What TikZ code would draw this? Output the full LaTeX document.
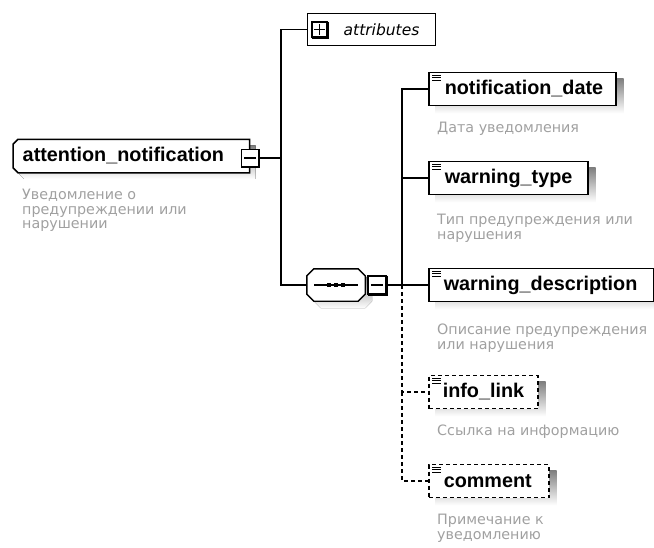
\documentclass[tikz,border=0pt]{standalone}
\usepackage{fontspec}
\setmainfont{DejaVu Sans}
\newfontfamily\titlef{Liberation Sans}
\usetikzlibrary{backgrounds,calc}
\definecolor{desc}{HTML}{A0A0A0}
\definecolor{shade}{HTML}{C6C6C6}
\tikzset{
  conn/.style={draw=black, line width=1.3pt},
  optconn/.style={conn, dash pattern=on 4pt off 3pt},
  ebox/.style={draw=black, line width=1.5pt, fill=white, minimum height=33pt,
    inner xsep=0pt, inner ysep=0pt, align=left, anchor=west,
    font=\titlef\fontsize{19.8}{22}\selectfont\bfseries},
  optbox/.style={ebox, dash pattern=on 4pt off 3pt},
  rootbox/.style={ebox, draw=none, fill=none, minimum height=32pt},
  attrbox/.style={draw=black, line width=1.4pt, fill=white, minimum height=32pt,
    inner xsep=0pt, inner ysep=0pt, align=left, anchor=west,
    font=\fontsize{15.5}{18}\selectfont\itshape},
  seqbox/.style={draw=none, minimum width=58pt, minimum height=32pt, inner sep=0pt},
  dsc/.style={anchor=north west, inner sep=0pt, text=desc, align=left,
    font=\fontsize{14.3}{14.6}\selectfont},
  pmbox/.style={draw=black, line width=1.3pt, fill=white, minimum size=17pt, inner sep=0pt},
}
\newcommand\thickedge[1]{\draw[line width=2.6pt] ([yshift=-0.6pt]#1.north east) -- (#1.south east) -- ([xshift=0.6pt]#1.south west);}
\newcommand\elicon[1]{\foreach \yy in {3.5,6,8.5}{\draw[line width=0.9pt] ([shift={(4,\yy)}]#1.north west) -- +(9,0);}}
\newcommand\eshadow[1]{\fill[shade] ([shift={(7,7)}]#1.north west) rectangle ([shift={(7,7)}]#1.south east);}
\begin{document}
\begin{tikzpicture}[x=1pt,y=-1pt]
\useasboundingbox (0,0) rectangle (654,547);

% root element
\node[rootbox, text width=235pt] (root) at (13,156) {\hspace*{9pt}attention\_notification};
\node[dsc] (rootd) at (22,189) {Уведомление о\\предупреждении или\\нарушении};
\begin{scope}[on background layer]
  \fill[shade] ($(root.north west)+(11,6)$) -- ($(root.north east)+(6,6)$) -- ($(root.south east)+(6,6)$)
     -- ($(root.south west)+(11,6)$) -- ($(root.south west)+(6,1)$) -- ($(root.north west)+(6,11)$) -- cycle;
  \draw[line width=1.5pt, fill=white] ($(root.north west)+(5,0)$) -- (root.north east) -- (root.south east)
     -- ($(root.south west)+(5,0)$) -- ($(root.south west)+(0,-5)$) -- ($(root.north west)+(0,5)$) -- cycle;
\end{scope}
\node[pmbox] (rminus) at (250,158) {};
\thickedge{rminus}
\draw[line width=1.3pt] ([xshift=3.5]rminus.west) -- ([xshift=-3.5]rminus.east);

% attributes
\node[attrbox, text width=128pt] (attr) at (307,29.5) {\hspace*{36pt}attributes};
\node[pmbox, minimum size=15pt] (aplus) at (319.5,29.5) {};
\thickedge{aplus}
\draw[line width=1.2pt] ([xshift=3]aplus.west) -- ([xshift=-3]aplus.east);
\draw[line width=1.2pt] ([yshift=-3]aplus.north) -- ([yshift=3]aplus.south);

% sequence compositor
\node[seqbox] (seq) at (336,285) {};
\begin{scope}[on background layer]
  \fill[shade] ($(seq.north west)+(14,7)$) -- ($(seq.north east)+(0,7)$) -- ($(seq.north east)+(7,14)$)
     -- ($(seq.south east)+(7,0)$) -- ($(seq.south east)+(0,7)$) -- ($(seq.south west)+(14,7)$)
     -- ($(seq.south west)+(7,0)$) -- ($(seq.north west)+(7,14)$) -- cycle;
  \draw[line width=1.4pt, fill=white] ($(seq.north west)+(7,0)$) -- ($(seq.north east)+(-7,0)$) -- ($(seq.north east)+(0,7)$)
     -- ($(seq.south east)+(0,-7)$) -- ($(seq.south east)+(-7,0)$) -- ($(seq.south west)+(7,0)$)
     -- ($(seq.south west)+(0,-7)$) -- ($(seq.north west)+(0,7)$) -- cycle;
\end{scope}
\draw[line width=1.3pt] ([xshift=-22]seq.center) -- ([xshift=22]seq.center);
\foreach \dx in {-7,0,7}{\fill ([shift={(\dx-2.4,-2.4)}]seq.center) rectangle +(4.8,4.8);}
\node[pmbox, minimum size=18pt] (sminus) at (377,285) {};
\thickedge{sminus}
\draw[line width=1.3pt] ([xshift=3.5]sminus.west) -- ([xshift=-3.5]sminus.east);

% children
\node[ebox, text width=187pt] (nd) at (428,89) {\hspace*{16pt}notification\_date};
\node[ebox, text width=159pt] (wt) at (428,178) {\hspace*{16pt}warning\_type};
\node[ebox, text width=225pt] (wd) at (428,285) {\hspace*{15pt}warning\_description};
\node[optbox, text width=109pt] (il) at (428,392) {\hspace*{14pt}info\_link};
\node[optbox, text width=120pt] (cm) at (428,481) {\hspace*{15pt}comment};
\begin{scope}[on background layer]
  \eshadow{nd}\eshadow{wt}\eshadow{wd}\eshadow{il}\eshadow{cm}
\end{scope}
\elicon{nd}\elicon{wt}\elicon{wd}\elicon{il}\elicon{cm}

\node[dsc] (ndd) at (437,122) {Дата уведомления};
\node[dsc] (wtd) at (437,214) {Тип предупреждения или\\нарушения};
\node[dsc] (wdd) at (437,324) {Описание предупреждения\\или нарушения};
\node[dsc] (ild) at (437,425) {Ссылка на информацию};
\node[dsc] (cmd) at (437,514) {Примечание к\\уведомлению};

% connectors
\coordinate (j1) at (281,158);
\coordinate (j2) at (402,285);
\draw[conn] (rminus.east) -- (j1);
\draw[conn] (j1) |- (attr.west);
\draw[conn] (j1) |- (seq.west);
\draw[conn] (sminus.east) -- (wd.west);
\draw[conn] (j2) |- (nd.west);
\draw[conn] (j2) |- (wt.west);
\draw[optconn] (j2) |- (il.west);
\draw[optconn] (il.west -| j2) |- (cm.west);
\end{tikzpicture}
\end{document}
